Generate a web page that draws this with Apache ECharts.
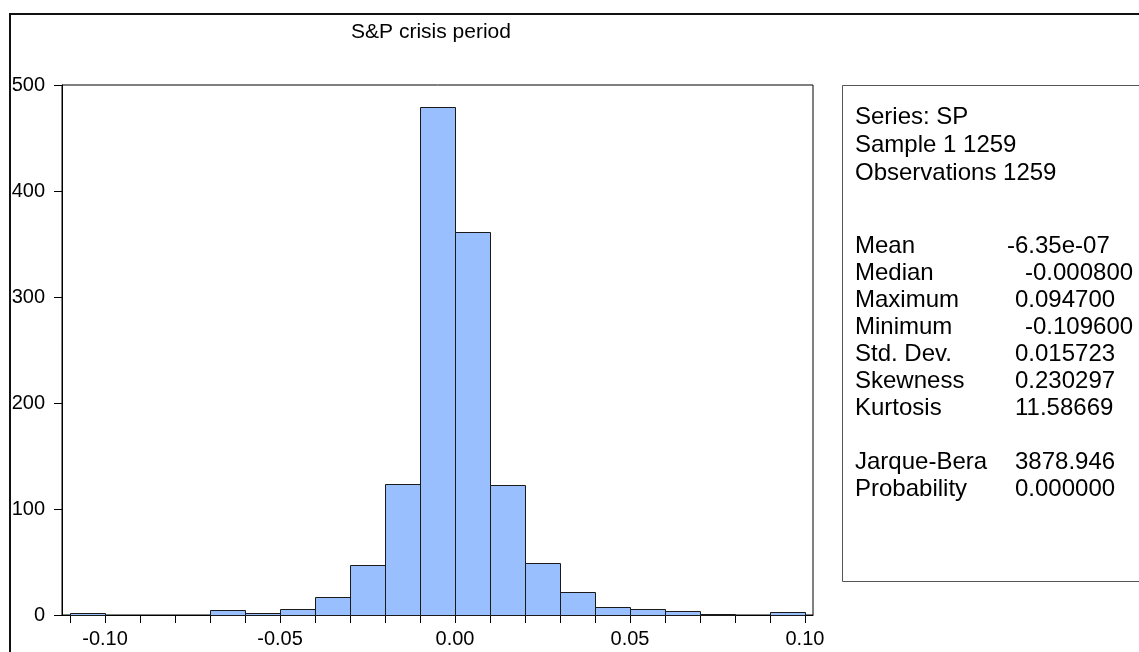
<!DOCTYPE html>
<html>
<head>
<meta charset="utf-8">
<title>S&amp;P crisis period</title>
<script src="https://cdn.jsdelivr.net/npm/echarts@6/dist/echarts.min.js"></script>
<style>
  html, body { margin: 0; padding: 0; background: #fff; }
  #chart { width: 1139px; height: 652px; }
</style>
</head>
<body>
<div id="chart"></div>
<script>
// Histogram of daily S&P returns, crisis period
const chartTitle = 'S&P crisis period';

// Bin edges (lower edge of bin i is binEdges[i], upper edge is binEdges[i+1])
const binEdges = [-0.11, -0.10, -0.09, -0.08, -0.07, -0.06, -0.05, -0.04, -0.03, -0.02, -0.01,
                   0.00,  0.01,  0.02,  0.03,  0.04,  0.05,  0.06,  0.07,  0.08,  0.09,  0.10];
// Observations per bin
const binCounts = [2, 0, 0, 0, 5, 2, 6, 17, 47, 124, 479,
                   361, 123, 49, 22, 8, 6, 4, 1, 0, 3];

// Axis ticks and labels
const xTickValues = [-0.11, -0.10, -0.09, -0.08, -0.07, -0.06, -0.05, -0.04, -0.03, -0.02, -0.01,
                      0.00,  0.01,  0.02,  0.03,  0.04,  0.05,  0.06,  0.07,  0.08,  0.09,  0.10];
const xLabelValues = [-0.10, -0.05, 0.00, 0.05, 0.10];
const yTickValues = [0, 100, 200, 300, 400, 500];

// Descriptive statistics panel
const statsHeader = ['Series: SP', 'Sample 1 1259', 'Observations 1259'];
const statNames  = ['Mean', 'Median', 'Maximum', 'Minimum', 'Std. Dev.', 'Skewness', 'Kurtosis', '', 'Jarque-Bera', 'Probability'];
const statValues = ['-6.35e-07', '-0.000800', '0.094700', '-0.109600', '0.015723', '0.230297', '11.58669', '', '3878.946', '0.000000'];

const FONT = "'Liberation Sans', Arial, sans-serif";
const STAT_FONT = '24px ' + FONT;
const bars = binCounts.map((c, i) => [binEdges[i], binEdges[i + 1], c]);

// Small horizontal nudges for the value column (tabbed layout)
const valueNudge = { 'Mean': -8, 'Median': 10, 'Minimum': 10 };

const graphics = [
  // outer frame
  { type: 'rect', shape: { x: 10, y: 14, width: 1200, height: 700 },
    style: { fill: 'none', stroke: '#111', lineWidth: 2 }, silent: true },
  // title
  { type: 'text', x: 431, y: 32,
    style: { text: chartTitle, fill: '#000', font: '21px ' + FONT, textAlign: 'center', textVerticalAlign: 'middle' } },
  // stats box
  { type: 'rect', shape: { x: 842.5, y: 85.5, width: 400, height: 496 },
    style: { fill: 'none', stroke: '#555', lineWidth: 1 }, silent: true }
];

statsHeader.forEach((t, i) => {
  graphics.push({ type: 'text', x: 855, y: 117 + 28 * i,
    style: { text: t, fill: '#000', font: STAT_FONT, textVerticalAlign: 'middle' } });
});
statNames.forEach((t, i) => {
  if (!t) return;
  const y = 246 + 27 * i;
  graphics.push({ type: 'text', x: 855, y: y,
    style: { text: t, fill: '#000', font: STAT_FONT, textVerticalAlign: 'middle' } });
  graphics.push({ type: 'text', x: 1015 + (valueNudge[t] || 0), y: y,
    style: { text: statValues[i], fill: '#000', font: STAT_FONT, textVerticalAlign: 'middle' } });
});

const chart = echarts.init(document.getElementById('chart'), null, { renderer: 'canvas' });
chart.setOption({
  animation: false,
  backgroundColor: '#fff',
  grid: { left: 62, top: 85, right: 326, bottom: 37, show: true, borderColor: '#000', borderWidth: 1, backgroundColor: 'transparent' },
  xAxis: {
    type: 'value', min: -0.1123, max: 0.1023,
    axisLine: { show: true, onZero: false, lineStyle: { color: '#000', width: 1 } },
    axisTick: { show: true, inside: false, length: 8, customValues: xTickValues, lineStyle: { color: '#000' } },
    axisLabel: { customValues: xLabelValues, formatter: v => v.toFixed(2), color: '#000', fontSize: 20, fontFamily: FONT, margin: 14 },
    splitLine: { show: false }
  },
  yAxis: {
    type: 'value', min: 0, max: 500, interval: 100,
    axisLine: { show: true, onZero: false, lineStyle: { color: '#000', width: 1 } },
    axisTick: { show: true, inside: false, length: 8, customValues: yTickValues, lineStyle: { color: '#000' } },
    axisLabel: { customValues: yTickValues, color: '#000', fontSize: 20, fontFamily: FONT, margin: 17 },
    splitLine: { show: false }
  },
  series: [{
    type: 'custom',
    data: bars,
    encode: { x: [0, 1], y: 2 },
    renderItem: function (params, api) {
      const count = api.value(2);
      if (!count) return null;
      const p0 = api.coord([api.value(0), count]);
      const p1 = api.coord([api.value(1), 0]);
      return {
        type: 'rect',
        shape: { x: Math.round(p0[0]) + 0.5, y: Math.round(p0[1]) + 0.5,
                 width: Math.round(p1[0] - p0[0]), height: Math.round(p1[1] - p0[1]) },
        style: { fill: '#99BFFF', stroke: '#1a1a1a', lineWidth: 1 }
      };
    }
  }],
  graphic: graphics
});
</script>
</body>
</html>
